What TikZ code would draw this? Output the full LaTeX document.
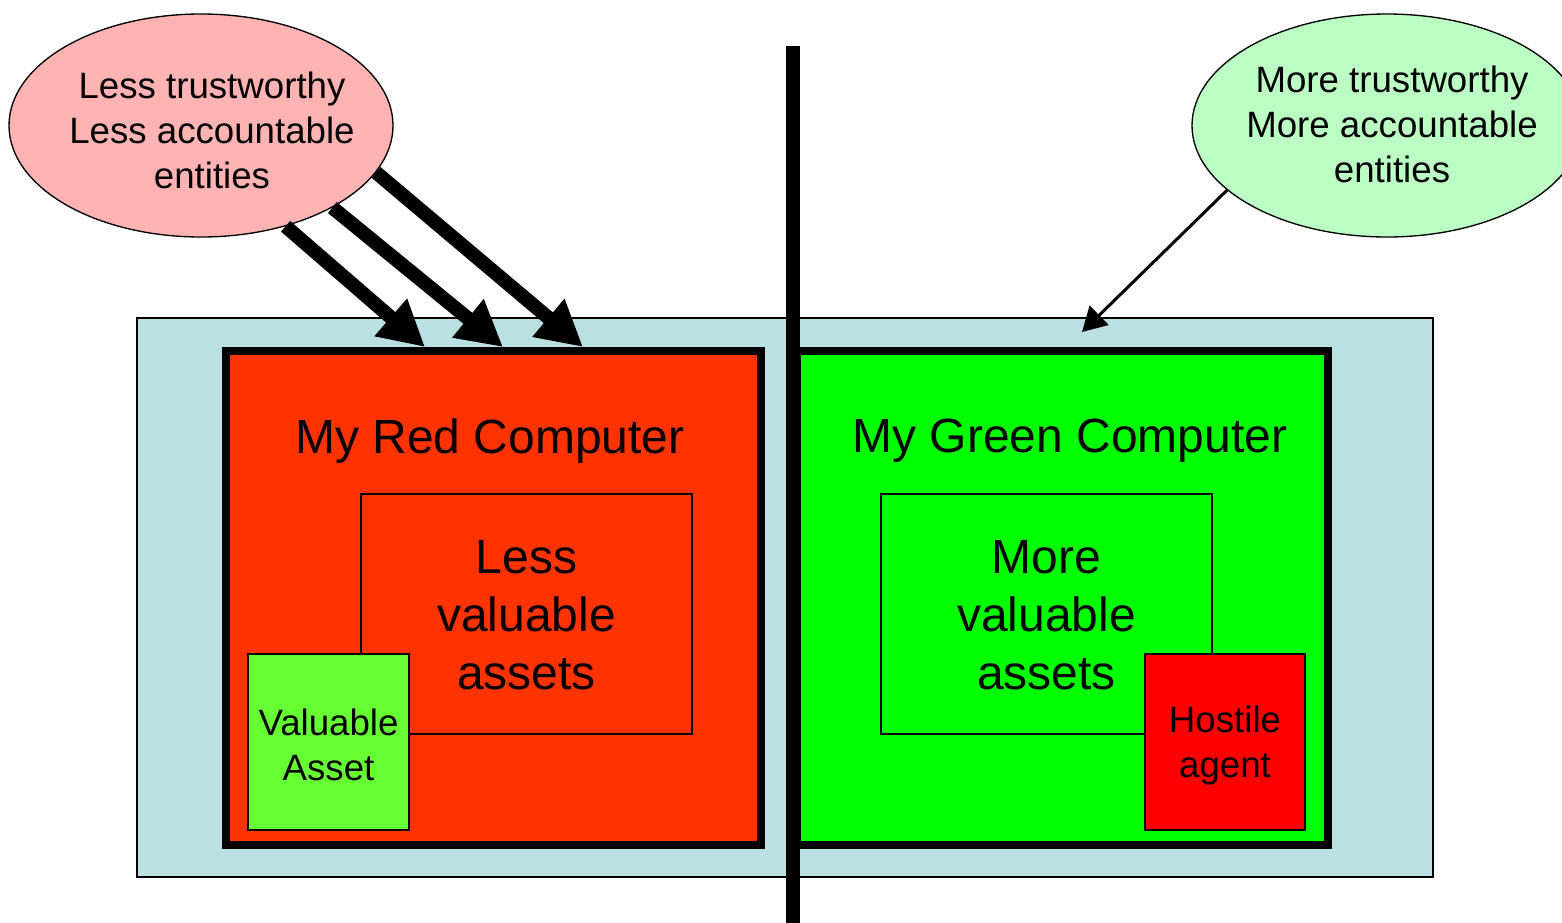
\documentclass[tikz,border=0pt]{standalone}
\usepackage{fontspec}
\setmainfont{Liberation Sans}
\usetikzlibrary{shapes.geometric,arrows.meta}

\definecolor{zoneblue}{RGB}{187,224,227}
\definecolor{redpc}{RGB}{255,51,0}
\definecolor{greenpc}{RGB}{0,255,0}
\definecolor{assetgreen}{RGB}{102,255,51}
\definecolor{hostred}{RGB}{255,0,0}
\definecolor{lesspink}{RGB}{255,179,179}
\definecolor{morepale}{RGB}{187,255,196}

\tikzset{every picture/.style={line width=0.75pt}}
\tikzset{
  plate/.style 2 args={rectangle, draw, inner sep=0pt, minimum width=#1*0.75pt, minimum height=#2*0.75pt},
  cloud/.style 2 args={ellipse, draw, line width=1pt, inner sep=0pt, minimum width=#1*0.75pt, minimum height=#2*0.75pt},
  bigtxt/.style={align=center, font=\fontsize{36}{43.5}\selectfont},
  smalltxt/.style={align=center, font=\fontsize{27.5}{33.75}\selectfont},
  fatarrow/.style={line width=10.5pt, -{Triangle[length=34pt,width=35pt]}},
  thinarrow/.style={line width=2.25pt, -{Triangle[length=18pt,width=20pt]}}
}

\begin{document}
\begin{tikzpicture}[x=0.75pt,y=0.75pt,yscale=-1,xscale=1]
	\useasboundingbox (0,0) rectangle (1562,922);

	%Shape: Rectangle [id:zone]
	\node [plate={1296}{559}, fill=zoneblue, line width=1.2pt] (zone) at (785,597.5) {};
	%Shape: Rectangle [id:redpc]
	\node [plate={535}{494}, fill=redpc, line width=6pt] (redpc) at (493.5,598) {};
	%Shape: Rectangle [id:greenpc]
	\node [plate={531}{494}, fill=greenpc, line width=6pt] (greenpc) at (1062.5,598) {};

	%Shape: Rectangle [id:lessval]
	\node [plate={331}{240}, fill=redpc, line width=1pt] (lessval) at (526.5,614) {};
	%Shape: Rectangle [id:moreval]
	\node [plate={331}{240}, fill=greenpc, line width=1pt] (moreval) at (1046.5,614) {};
	%Shape: Rectangle [id:asset]
	\node [plate={161}{176}, fill=assetgreen, line width=1.2pt] (asset) at (328.5,742) {};
	%Shape: Rectangle [id:hostile]
	\node [plate={160}{176}, fill=hostred, line width=1.2pt] (hostile) at (1225,742) {};

	%Straight Lines [id:wall]
	\coordinate (walltop) at (793,46);
	\coordinate (wallbot) at (793,930);
	\draw [line width=10.5pt] (walltop) -- (wallbot);

	%Shape: Ellipse [id:less]
	\node [cloud={384}{223}, fill=lesspink] (less) at (201,125.5) {};
	%Shape: Ellipse [id:more]
	\node [cloud={390}{223}, fill=morepale] (more) at (1387,125.5) {};

	%Straight Lines [id:hit1]
	\coordinate (hit1) at (425,347);
	\draw [fatarrow] (less.-50) -- (hit1);
	%Straight Lines [id:hit2]
	\coordinate (hit2) at (503,347);
	\draw [fatarrow] (less.-32) -- (hit2);
	%Straight Lines [id:hit3]
	\coordinate (hit3) at (583,347);
	\draw [fatarrow] (less.-15) -- (hit3);
	%Straight Lines [id:hit4]
	\coordinate (hit4) at (1082,332);
	\draw [thinarrow] (more.-158) -- (hit4);

	% Text Node
	\node [smalltxt] (lesstxt) at (212,130) {Less trustworthy\\Less accountable\\entities};
	% Text Node
	\node [smalltxt] (moretxt) at (1392,124) {More trustworthy\\More accountable\\entities};
	% Text Node
	\node [bigtxt] (redname) at (490,441) {My Red Computer};
	% Text Node
	\node [bigtxt] (greenname) at (1070,441) {My Green Computer};
	% Text Node
	\node [bigtxt] (lessvaltxt) at (lessval) [yshift=-1pt] {Less\\valuable\\assets};
	% Text Node
	\node [bigtxt] (morevaltxt) at (moreval) [yshift=-1pt] {More\\valuable\\assets};
	% Text Node
	\node [smalltxt] (assettxt) at (asset) [yshift=-2.5pt] {Valuable\\Asset};
	% Text Node
	\node [smalltxt] (hostiletxt) at (hostile) [yshift=-2.5pt] {Hostile\\agent};

\end{tikzpicture}
\end{document}
